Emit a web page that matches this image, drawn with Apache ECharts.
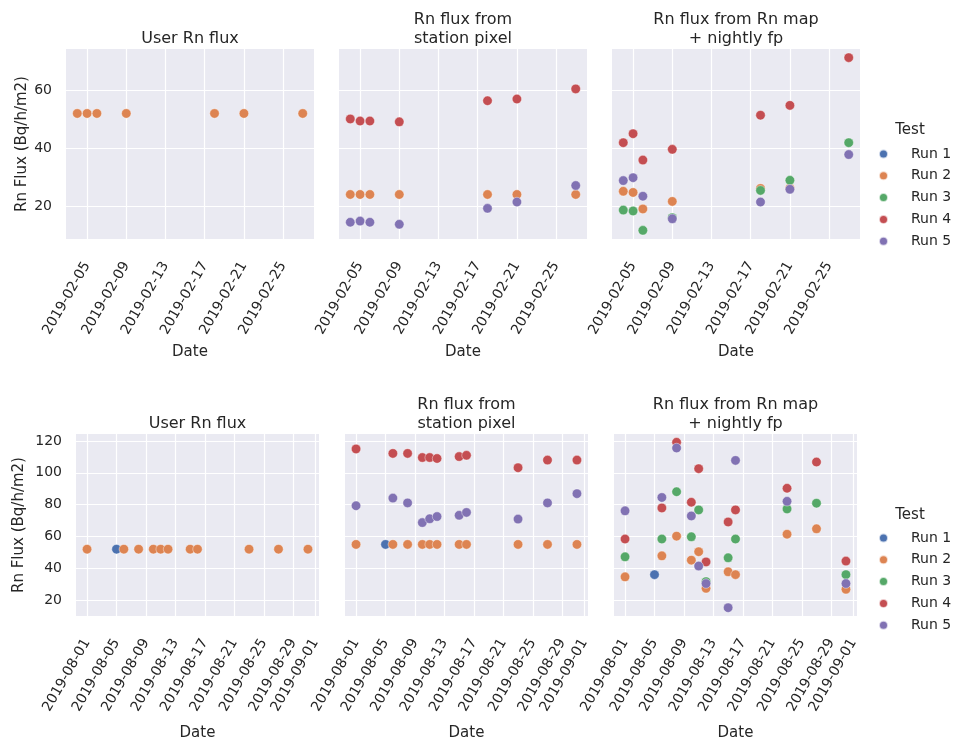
<!DOCTYPE html>
<html><head><meta charset="utf-8">
<script src="https://cdn.jsdelivr.net/npm/echarts@6/dist/echarts.min.js"></script>
<style>html,body{margin:0;padding:0;background:#fff}#c{width:955px;height:742px}</style>
</head><body><div id="c"></div>
<script>
const runNames = ['Run 1','Run 2','Run 3','Run 4','Run 5'];
const runColors = ['#4C72B0','#DD8452','#55A868','#C44E52','#8172B3'];
const panelTitles = ['User Rn flux','Rn flux from\nstation pixel','Rn flux from Rn map\n+ nightly fp'];
const yName = 'Rn Flux (Bq/h/m2)';
const xName = 'Date';
const legendTitle = 'Test';

// ---- February 2019 (top row) ----
const febDates = ['2019-02-04','2019-02-05','2019-02-06','2019-02-09','2019-02-18','2019-02-21','2019-02-27'];
const febXTicks = ['2019-02-05','2019-02-09','2019-02-13','2019-02-17','2019-02-21','2019-02-25'];
const febYTicks = [20,40,60];
const febUserRun2    = [52,52,52,52,52,52,52];
const febStationRun2 = [24,24,24,24,24,24,24];
const febStationRun4 = [50.1,49.4,49.4,49.1,56.4,57.0,60.5];
const febStationRun5 = [14.4,14.8,14.4,13.7,19.2,21.4,27.1];
const febMapRun2 = [25.1,24.7,19.0,21.6,26.1,26.2,null];
const febMapRun3 = [18.6,18.3,11.6,16.0,25.4,28.9,41.9];
const febMapRun4 = [41.9,45.0,35.9,39.6,51.4,54.8,71.3];
const febMapRun5 = [28.8,29.8,23.4,15.6,21.4,25.8,37.8];

// ---- August 2019 (bottom row) ----
const augDates = ['2019-08-01','2019-08-05','2019-08-06','2019-08-08','2019-08-10','2019-08-11','2019-08-12','2019-08-15','2019-08-16','2019-08-23','2019-08-27','2019-08-31'];
const augXTicks = ['2019-08-01','2019-08-05','2019-08-09','2019-08-13','2019-08-17','2019-08-21','2019-08-25','2019-08-29','2019-09-01'];
const augYTicks = [20,40,60,80,100,120];
const augUserRun1    = [null,52,null,null,null,null,null,null,null,null,null,null];
const augUserRun2    = [52,null,52,52,52,52,52,52,52,52,52,52];
const augStationRun1 = [null,55,null,null,null,null,null,null,null,null,null,null];
const augStationRun2 = [55,null,55,55,55,55,55,55,55,55,55,55];
const augStationRun4 = [115.0,null,112.2,112.2,109.6,109.6,109.0,110.2,111.0,103.2,108.0,108.0];
const augStationRun5 = [79.3,null,84.1,81.1,68.7,71.1,72.5,73.3,75.1,70.9,81.1,86.9];
const augMapRun1 = [null,36.0,null,null,null,null,null,null,null,null,null,null];
const augMapRun2 = [34.6,null,47.8,60.2,45.1,50.4,27.4,37.8,36.0,61.4,64.8,26.8];
const augMapRun3 = [47.2,null,58.4,88.1,59.8,76.7,31.6,46.6,58.4,77.3,80.9,36.0];
const augMapRun4 = [58.4,null,77.9,119.2,81.5,102.6,44.0,69.1,76.7,90.3,106.8,44.5];
const augMapRun5 = [76.1,null,84.5,115.6,72.9,41.4,30.4,15.2,107.8,82.1,null,30.4];

const rows = [
  { dates: febDates, xTicks: febXTicks, yTicks: febYTicks,
    panels: [ {2: febUserRun2},
              {2: febStationRun2, 4: febStationRun4, 5: febStationRun5},
              {2: febMapRun2, 3: febMapRun3, 4: febMapRun4, 5: febMapRun5} ] },
  { dates: augDates, xTicks: augXTicks, yTicks: augYTicks,
    panels: [ {1: augUserRun1, 2: augUserRun2},
              {1: augStationRun1, 2: augStationRun2, 4: augStationRun4, 5: augStationRun5},
              {1: augMapRun1, 2: augMapRun2, 3: augMapRun3, 4: augMapRun4, 5: augMapRun5} ] }
];

// layout (pixels)
const layout = [
  { top: 49, height: 190, lefts: [66,339,612], width: 248, yNameGap: 36, legendTop: 141, testY: 130, xNameGap: 106 },
  { top: 434, height: 190, lefts: [76,345,614], width: 243, yNameGap: 49, legendTop: 525, testY: 515, xNameGap: 110 }
];

const FONT = 'DejaVu Sans';
const TXT = '#262626';
const ts = s => Date.parse(s);
const p2 = n => (n < 10 ? '0' : '') + n;
const fmtDate = v => { const d = new Date(v); return d.getUTCFullYear() + '-' + p2(d.getUTCMonth()+1) + '-' + p2(d.getUTCDate()); };

const grids = [], xAxes = [], yAxes = [], series = [], graphics = [], legends = [];
let idx = 0;
rows.forEach((row, r) => {
  const L = layout[r];
  const t = row.dates.map(ts);
  const tMin = Math.min(...t), tMax = Math.max(...t), tPad = 0.05 * (tMax - tMin);
  let vals = [];
  row.panels.forEach(p => Object.values(p).forEach(a => a.forEach(v => { if (v != null) vals.push(v); })));
  const vMin = Math.min(...vals), vMax = Math.max(...vals), vPad = 0.05 * (vMax - vMin);
  const xTickVals = row.xTicks.map(ts);
  row.panels.forEach((p, c) => {
    grids.push({ left: L.lefts[c], top: L.top, width: L.width, height: L.height, show: true,
                 backgroundColor: '#EAEAF2', borderWidth: 0, containLabel: false });
    xAxes.push({ type: 'value', gridIndex: idx, min: tMin - tPad, max: tMax + tPad,
      name: xName, nameLocation: 'middle', nameGap: L.xNameGap,
      nameTextStyle: { fontFamily: FONT, fontSize: 15, color: TXT },
      axisLine: { show: false }, axisTick: { show: false, customValues: xTickVals },
      axisLabel: { customValues: xTickVals, rotate: 60, margin: 24, formatter: fmtDate,
                   fontFamily: FONT, fontSize: 14, color: TXT },
      splitLine: { show: true, lineStyle: { color: '#ffffff', width: 1.2 } } });
    yAxes.push({ type: 'value', gridIndex: idx, min: vMin - vPad, max: vMax + vPad,
      name: c === 0 ? yName : '', nameLocation: 'middle', nameGap: L.yNameGap,
      nameTextStyle: { fontFamily: FONT, fontSize: 15, color: TXT },
      axisLine: { show: false }, axisTick: { show: false, customValues: row.yTicks },
      axisLabel: { show: c === 0, customValues: row.yTicks, margin: 14,
                   fontFamily: FONT, fontSize: 14, color: TXT },
      splitLine: { show: true, lineStyle: { color: '#ffffff', width: 1.2 } } });
    Object.keys(p).map(Number).sort().forEach(run => {
      const data = [];
      p[run].forEach((v, i) => { if (v != null) data.push([t[i], v]); });
      series.push({ type: 'scatter', name: runNames[run-1], xAxisIndex: idx, yAxisIndex: idx,
        data: data, symbol: 'circle', symbolSize: 9.5,
        itemStyle: { color: runColors[run-1], borderColor: 'rgba(255,255,255,0.7)', borderWidth: 0.6, opacity: 1 },
        emphasis: { disabled: true }, z: 2 + run });
    });
    graphics.push({ type: 'text', x: L.lefts[c] + L.width / 2, y: L.top - 1,
      style: { text: panelTitles[c], fill: TXT, font: '16px "DejaVu Sans"', lineHeight: 19,
               textAlign: 'center', textVerticalAlign: 'bottom' } });
    idx++;
  });
  graphics.push({ type: 'text', x: 910, y: L.testY,
    style: { text: legendTitle, fill: TXT, font: '15px "DejaVu Sans"', textAlign: 'center', textVerticalAlign: 'middle' } });
  legends.push({ data: runNames, orient: 'vertical', left: 873, top: L.legendTop,
    icon: 'circle', itemWidth: 45, itemHeight: 9, itemGap: 5.8, selectedMode: false,
    textStyle: { fontFamily: FONT, fontSize: 14, color: TXT, lineHeight: 16 } });
});

const chart = echarts.init(document.getElementById('c'), null, { renderer: 'canvas' });
chart.setOption({
  animation: false,
  backgroundColor: '#ffffff',
  color: runColors,
  grid: grids, xAxis: xAxes, yAxis: yAxes, series: series,
  legend: legends, graphic: graphics
});
</script></body></html>
